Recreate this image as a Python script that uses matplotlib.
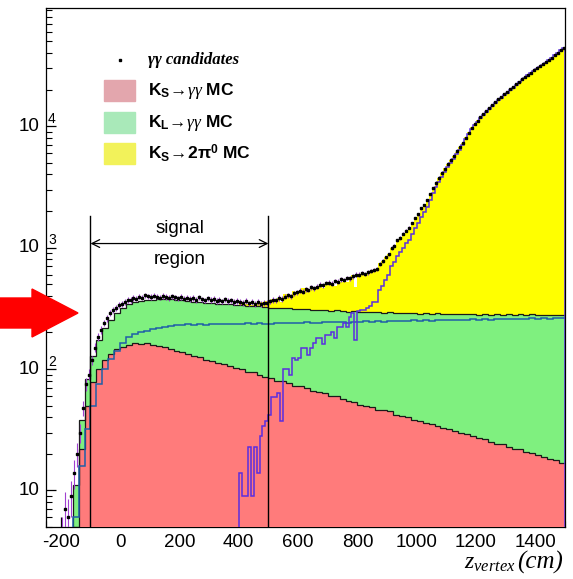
import numpy as np
import matplotlib
matplotlib.use("Agg")
import matplotlib.pyplot as plt
from matplotlib.patches import Polygon, Rectangle
from matplotlib.ticker import LogLocator, MultipleLocator, NullFormatter, FixedLocator

plt.rcParams['font.family'] = ['Liberation Sans', 'DejaVu Sans']
plt.rcParams['mathtext.fontset'] = 'custom'
plt.rcParams['mathtext.rm'] = 'Liberation Sans:bold'
plt.rcParams['mathtext.bf'] = 'Liberation Sans:bold'
plt.rcParams['mathtext.it'] = 'Liberation Serif:italic'

# 20 cm bins, -200 .. 1500
edges20 = np.arange(-200, 1501, 20)
ks_gg = [0, 0, 5, 22, 50, 78, 100, 118, 133, 145,
         153, 158, 163, 162, 164, 159, 156, 151, 147, 140,
         138, 132, 128, 125, 119, 117, 112, 110, 105, 102,
         100, 95, 94, 90, 86, 85, 80, 79, 77, 73,
         72, 70, 66, 65, 63, 60, 60, 57, 55, 54,
         51, 50, 49, 46, 46, 45, 42, 41, 40, 38,
         37, 36, 35, 34, 32.5, 32, 31, 29.5, 29, 28,
         27, 26.5, 25, 24.2, 24, 22.8, 22, 21.8, 20.6, 20.3,
         19.4, 19, 18.1, 17.8, 16.8]
kl_gg = [0, 1.5, 6, 16, 32, 50, 75, 100, 122, 142,
         165, 183, 195, 202, 207, 212, 218, 223, 227, 230,
         229, 233, 231, 234, 232, 236, 233, 235, 237, 234,
         236, 238, 235, 239, 237, 236, 240, 238, 241, 239,
         240, 243, 241, 239, 244, 242, 245, 243, 241, 246,
         244, 247, 245, 248, 246, 249, 247, 250, 248, 251,
         249, 252, 250, 253, 251, 254, 252, 255, 253, 256,
         254, 257, 255, 258, 256, 259, 257, 260, 258, 261,
         259, 262, 260, 263, 261]

# 10 cm bins
edges10 = np.arange(-200, 1501, 10)
edges_2pi0 = np.arange(400, 1501, 10)
ks_2pi0 = [14, 9, 9, 23, 9, 23, 14, 28, 34, 37,
           42, 59, 59, 64, 37, 100, 100, 90, 124, 118,
           124, 150, 150, 130, 150, 165, 180, 180, 160, 192,
           192, 200, 180, 223, 223, 240, 223, 270, 290, 175,
           300, 309, 309, 320, 330, 355, 355, 450, 480, 540,
           600, 700, 760, 850, 920, 1000, 1100, 1150, 1300, 1450,
           1600, 1800, 1950, 2150, 2450, 2800, 3150, 3450, 3800, 4200,
           4600, 5000, 5400, 5900, 6400, 7000, 7800, 8700, 9500, 10200,
           10900, 11600, 12300, 13100, 13900, 14700, 15500, 16300, 17100, 18000,
           18900, 19800, 20800, 21800, 22900, 24000, 25100, 26200, 27300, 28500,
           29700, 30900, 32100, 33400, 34800, 36500, 38200, 40000, 42000, 44000]
candidates = [4, 7, 6, 9, 14, 20, 30, 48, 75, 90,
              118, 150, 185, 210, 240, 262, 290, 305, 320, 335,
              345, 355, 370, 372, 385, 380, 395, 388, 405, 398,
              392, 402, 395, 388, 400, 393, 385, 398, 390, 383,
              392, 380, 388, 377, 385, 372, 390, 376, 368, 382,
              370, 378, 365, 372, 360, 375, 362, 368, 355, 365,
              358, 350, 362, 348, 355, 345, 358, 342, 350, 352,
              360, 372, 368, 385, 378, 395, 405, 398, 420, 430,
              440, 432, 455, 448, 470, 462, 478, 495, 488, 510,
              515, 505, 530, 525, 548, 540, 565, 558, 580, 600,
              600, 615, 610, 625, 640, 655, 670, 735, 780, 830,
              880, 990, 1040, 1150, 1200, 1300, 1380, 1460, 1590, 1750,
              1880, 2100, 2230, 2460, 2740, 3090, 3430, 3750, 4090, 4480,
              4850, 5300, 5700, 6200, 6750, 7300, 8000, 8800, 9600, 10400,
              11100, 11900, 12600, 13400, 14200, 15000, 15800, 16600, 17400, 18300,
              19200, 20100, 21100, 22100, 23200, 24300, 25400, 26500, 27600, 28800,
              30000, 31200, 32400, 33700, 35000, 36700, 38400, 40200, 42200, 44300]

ks_gg = np.array(ks_gg, float)
kl_gg = np.array(kl_gg, float)
ks_2pi0 = np.array(ks_2pi0, float)
candidates = np.array(candidates, float)

green_top = ks_gg + kl_gg
pi0_full = np.concatenate([np.zeros(len(edges10) - 1 - len(ks_2pi0)), ks_2pi0])
yellow_top = np.repeat(green_top, 2) + pi0_full

fig = plt.figure(figsize=(5.73, 5.79), dpi=100)
ax = fig.add_axes([46 / 573, 1 - 527 / 579, 519 / 573, 519 / 579])
ax.set_yscale('log')

ax.stairs(np.clip(yellow_top, 0.3, None), edges10, baseline=0.3, fill=True, color='#ffff00', zorder=1)
ax.stairs(np.clip(green_top, 0.3, None), edges20, baseline=0.3, fill=True, color='#7ff07f', zorder=2)
ax.stairs(np.clip(ks_gg, 0.3, None), edges20, baseline=0.3, fill=True, color='#ff7b7b', zorder=3)
ax.stairs(np.clip(green_top, 0.3, None), edges20, baseline=None, color='#1a1a1a', lw=0.9, zorder=4)
ax.stairs(np.clip(ks_gg, 0.3, None), edges20, baseline=None, color='#1a1a1a', lw=0.9, zorder=4)
ax.stairs(np.clip(kl_gg, 0.3, None), edges20, baseline=None, color='#1f5fa8', lw=1.1, zorder=4)
ax.stairs(ks_2pi0, edges_2pi0, baseline=0.3, color='#5a2ee0', lw=1.1, zorder=4)

xc = edges10[:-1] + 5
ax.errorbar(xc, candidates, yerr=np.sqrt(candidates), fmt='s', ms=2.0,
            mfc='black', mec='black', ecolor='#a040d0', elinewidth=0.8,
            capsize=0, zorder=6)

# signal region
for xv in (-100, 500):
    ax.plot([xv, xv], [5, 1830], color='black', lw=1, zorder=7)
ax.annotate('', xy=(-100, 1080), xytext=(500, 1080),
            arrowprops=dict(arrowstyle='<->', lw=0.9, color='black',
                            mutation_scale=14, shrinkA=0, shrinkB=0), zorder=7)
ax.text(200, 1440, 'signal', ha='center', va='center', fontsize=13.5)
ax.text(200, 800, 'region', ha='center', va='center', fontsize=13.5)

ax.set_xlim(-250, 1500)
ax.set_ylim(5, 9.4e4)

ax.xaxis.set_major_locator(FixedLocator(range(-200, 1401, 200)))
ax.xaxis.set_minor_locator(MultipleLocator(50))
ax.set_xticklabels([str(v) for v in range(-200, 1401, 200)], fontsize=13.5)
ax.yaxis.set_major_locator(FixedLocator([10, 100, 1000, 10000]))
ax.yaxis.set_minor_locator(LogLocator(base=10, subs=range(2, 10)))
ax.yaxis.set_major_formatter(NullFormatter())
ax.yaxis.set_minor_formatter(NullFormatter())
ax.tick_params(which='both', direction='in', top=False, right=False)
ax.tick_params(which='major', length=7.5, width=0.9)
ax.tick_params(which='minor', length=4.3, width=0.8)
ax.tick_params(axis='x', pad=5)
for sp in ax.spines.values():
    sp.set_linewidth(0.9)

# ROOT-style y labels
ytr = ax.get_yaxis_transform()
for dec, ex in [(10, None), (100, '2'), (1000, '3'), (10000, '4')]:
    ax.text(-0.012, dec, '10', transform=ytr, ha='right', va='center', fontsize=13.5)
    if ex:
        ax.text(0.004, dec * 1.15, ex, transform=ytr, ha='left', va='center', fontsize=10)

# legend
lx0, lw_, lh = 0.112, 0.059, 0.041
ax.plot([0.143], [0.900], 's', ms=2.0, color='black', transform=ax.transAxes)
ax.text(0.197, 0.900, 'γγ candidates', transform=ax.transAxes, ha='left', va='center',
        fontsize=12, family='Liberation Serif', style='italic', weight='bold')
entries = [('#e3a6ad', 0.841, r'K$_\mathrm{S}\!\rightarrow\!\gamma\gamma$ MC'),
           ('#a9e9b9', 0.779, r'K$_\mathrm{L}\!\rightarrow\!\gamma\gamma$ MC'),
           ('#f2f25a', 0.720, r'K$_\mathrm{S}\!\rightarrow\!$2π$^\mathrm{0}$ MC')]
for col, yc, lab in entries:
    ax.add_patch(Rectangle((lx0, yc - lh / 2), lw_, lh, transform=ax.transAxes,
                           color=col, zorder=8))
    ax.text(0.197, yc, lab, transform=ax.transAxes, ha='left', va='center',
            fontsize=12.5, weight='bold', zorder=8)

fig.text(563 / 573, 1 - 569 / 579, '(cm)', family='Liberation Serif', style='italic',
         ha='right', va='baseline', fontsize=18)
fig.text(516 / 573, 1 - 569 / 579, r'$z_{vertex}$', ha='right', va='baseline', fontsize=17)

# red arrow
arrow_px = [(0, 298), (32, 298), (32, 289), (78, 313), (32, 337), (32, 328), (0, 328)]
fig.add_artist(Polygon([(x / 573, 1 - y / 579) for x, y in arrow_px], closed=True,
                       color='#ff0000', transform=fig.transFigure))

fig.savefig('out.png', dpi=100)
